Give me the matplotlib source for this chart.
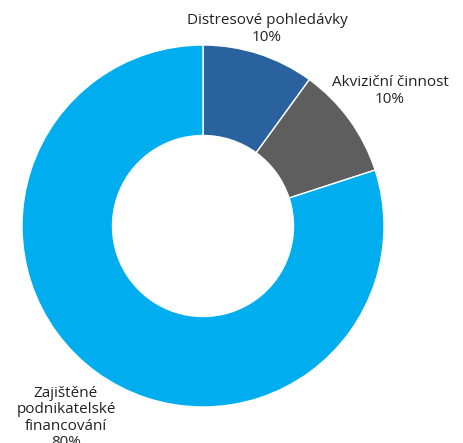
import matplotlib
matplotlib.use("Agg")
import matplotlib.pyplot as plt

categories = ["Distresové pohledávky", "Akviziční činnost", "Zajištěné\npodnikatelské\nfinancování"]
values = [10, 10, 80]
colors = ["#2A62A0", "#5E5E5E", "#00AEEF"]

W, H = 464, 443
fig = plt.figure(figsize=(W / 100, H / 100), dpi=100)
cx, cy, r = 203, 226, 181
ax = fig.add_axes([(cx - r) / W, (H - cy - r) / H, 2 * r / W, 2 * r / H])
ax.pie(values, colors=colors, startangle=90, counterclock=False,
       wedgeprops=dict(width=0.5, edgecolor="white", linewidth=1))
ax.set_xlim(-1, 1)
ax.set_ylim(-1, 1)
ax.set_aspect("equal")
ax.axis("off")

def d(px, py):
    return ((px - cx) / r, (cy - py) / r)

label_pos = [d(267, 29), d(390, 91), d(66, 418)]
for cat, v, (x, y) in zip(categories, values, label_pos):
    ax.text(x, y, f"{cat}\n{v}%", ha="center", va="center", fontsize=11,
            family="Open Sans", color="#222222", linespacing=1.15, clip_on=False)

fig.savefig("out.png", dpi=100)
